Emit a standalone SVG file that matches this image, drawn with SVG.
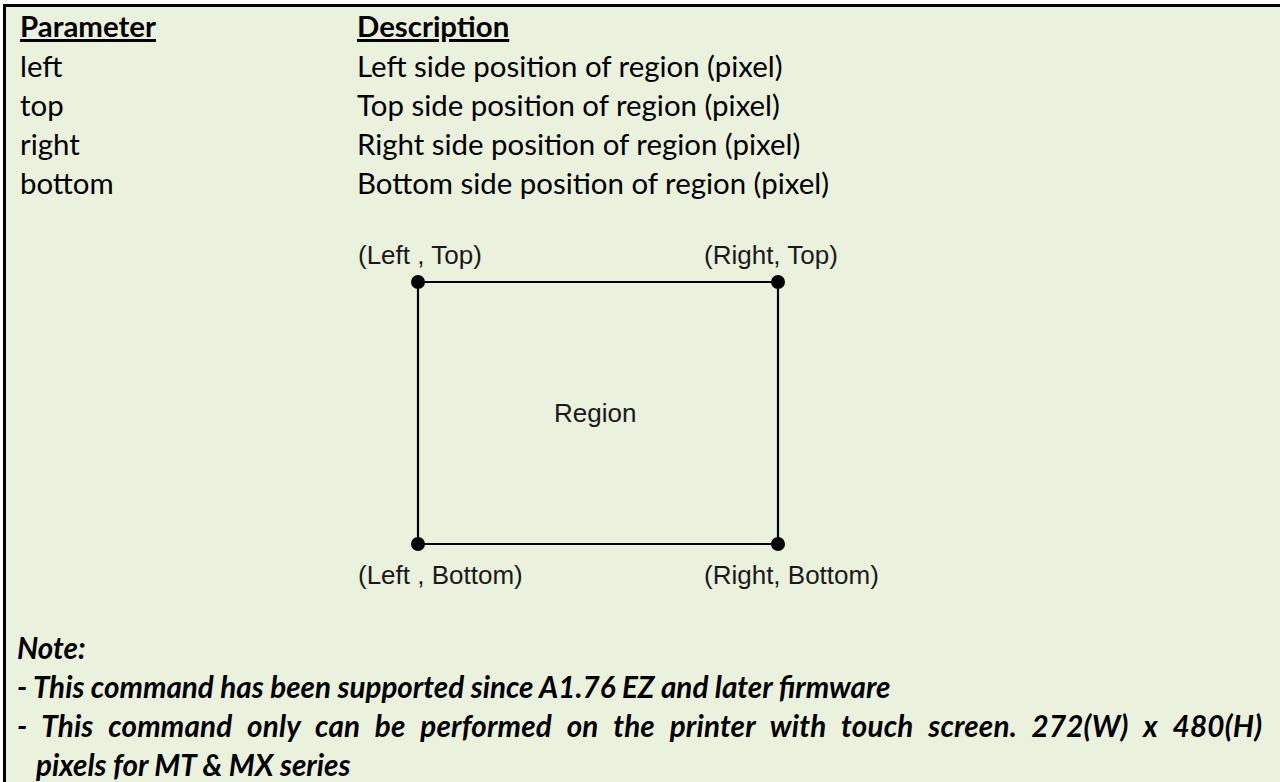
<svg xmlns="http://www.w3.org/2000/svg" width="1280" height="782" viewBox="0 0 1280 782">
<style>
.t{font-family:Lato,"Open Sans","Liberation Sans",sans-serif;font-size:29.4px;fill:#000}
.b{font-weight:bold;text-decoration:underline}
.n{font-weight:bold;font-style:italic;font-size:29.6px}
.a{font-family:"Liberation Sans",Arial,sans-serif;font-size:26px;fill:#1a1a1a}
.edge{stroke:#000;stroke-width:2.2;fill:none}
.dot{fill:#000}
</style>
<rect x="0" y="0" width="1280" height="782" fill="#ffffff"/>
<rect id="panel" x="4.5" y="5.5" width="1300" height="800" fill="#EAF1DD" stroke="#000" stroke-width="3"/>
<g id="table">
<text class="t b" x="20" y="37">Parameter</text>
<text class="t b" x="357" y="37">Description</text>
<text class="t" x="20" y="77">left</text>
<text class="t" x="357" y="77">Left side position of region (pixel)</text>
<text class="t" x="20" y="116">top</text>
<text class="t" x="357" y="116">Top side position of region (pixel)</text>
<text class="t" x="20" y="155">right</text>
<text class="t" x="357" y="155">Right side position of region (pixel)</text>
<text class="t" x="20" y="194">bottom</text>
<text class="t" x="357" y="194">Bottom side position of region (pixel)</text>
</g>
<g id="connectors">
<path class="edge" d="M418 282 H778 V544 H418 Z"/>
</g>
<g id="region">
<text class="a" x="554" y="422">Region</text>
</g>
<g id="corner-left-top"><circle class="dot" cx="418" cy="282" r="7"/><text class="a" x="358" y="264">(Left , Top)</text></g>
<g id="corner-right-top"><circle class="dot" cx="778" cy="282" r="7"/><text class="a" x="704" y="264">(Right, Top)</text></g>
<g id="corner-left-bottom"><circle class="dot" cx="418" cy="544" r="7"/><text class="a" x="358" y="584">(Left , Bottom)</text></g>
<g id="corner-right-bottom"><circle class="dot" cx="778" cy="544" r="7"/><text class="a" x="704" y="584">(Right, Bottom)</text></g>
<g id="note">
<text class="t n" x="17" y="659">Note:</text>
<text class="t n" x="17" y="698">- This command has been supported since A1.76 EZ and later firmware</text>
<text class="t n" x="17" y="737" word-spacing="8" textLength="1245" lengthAdjust="spacing">- This command only can be performed on the printer with touch screen. 272(W) x 480(H)</text>
<text class="t n" x="36" y="776">pixels for MT &amp; MX series</text>
</g>
</svg>
